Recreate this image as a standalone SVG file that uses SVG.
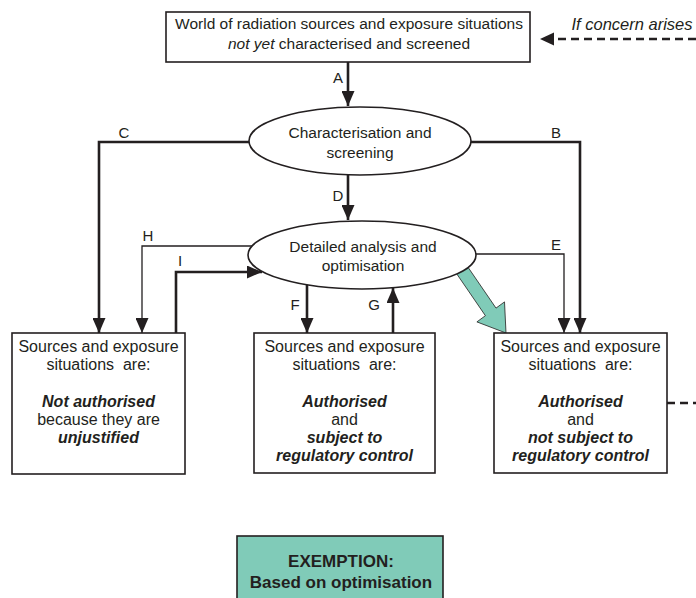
<svg xmlns="http://www.w3.org/2000/svg" width="696" height="598" viewBox="0 0 696 598">
<style>
text{font-family:"Liberation Sans",Arial,sans-serif;fill:#231f20;font-size:15.5px;text-anchor:middle}
.lbl{font-size:15px}
.bx text{font-size:16px}
.bi{font-weight:bold;font-style:italic}
.it{font-style:italic}
.b{font-weight:bold}
.box{fill:#fff;stroke:#231f20;stroke-width:1.6}
.thick{fill:none;stroke:#231f20;stroke-width:2.6}
.thin{fill:none;stroke:#231f20;stroke-width:1.3}
.dash{fill:none;stroke:#231f20;stroke-width:2.4;stroke-dasharray:8 5}
</style>
<defs>
<marker id="ah" markerUnits="userSpaceOnUse" markerWidth="16" markerHeight="13" refX="15" refY="6.5" orient="auto">
<path d="M0,0 L15,6.5 L0,13 z" fill="#231f20"/>
</marker>
</defs>
<g id="connectors">
<path class="thick" d="M348,62 V106" marker-end="url(#ah)"/>
<path class="thick" d="M348,175 V220" marker-end="url(#ah)"/>
<path class="thick" d="M250,142 H99 V333" marker-end="url(#ah)"/>
<path class="thick" d="M471,142 H580 V333" marker-end="url(#ah)"/>
<path class="thin" d="M253,246 H142 V333" marker-end="url(#ah)"/>
<path class="thick" d="M176,333 V272 H262" marker-end="url(#ah)"/>
<path class="thin" d="M475,254 H564 V333" marker-end="url(#ah)"/>
<path class="thick" d="M307,285 V333" marker-end="url(#ah)"/>
<path class="thick" d="M393,333 V288" marker-end="url(#ah)"/>
<path class="dash" d="M696,39 H542"/>
<path d="M540,39 L554,32.5 L554,45.5 z" fill="#231f20"/>
<path class="dash" d="M667,403 H696"/>
<polygon points="456.7,273.8 467.3,266.2 496,308.1 504.5,301.9 506,333 476.9,321.9 485.4,315.7" fill="#80cbb8" stroke="#231f20" stroke-width="0.8"/>
<text class="lbl" x="338" y="83">A</text>
<text class="lbl" x="124" y="138">C</text>
<text class="lbl" x="556" y="138">B</text>
<text class="lbl" x="338" y="201">D</text>
<text class="lbl" x="148" y="241">H</text>
<text class="lbl" x="180" y="266">I</text>
<text class="lbl" x="556" y="250">E</text>
<text class="lbl" x="295" y="310">F</text>
<text class="lbl" x="374" y="310">G</text>
<text class="it" x="632" y="30" style="font-size:16.5px">If concern arises</text>
</g>
<g id="world">
<rect class="box" x="166" y="12" width="364" height="50"/>
<text x="349" y="29">World of radiation sources and exposure situations</text>
<text x="349" y="49"><tspan class="it">not yet</tspan> characterised and screened</text>
</g>
<g id="screening">
<ellipse class="box" cx="360" cy="141" rx="111" ry="34"/>
<text x="360" y="138">Characterisation and</text>
<text x="360" y="158">screening</text>
</g>
<g id="analysis">
<ellipse class="box" cx="362" cy="255" rx="114" ry="34"/>
<text x="363" y="252">Detailed analysis and</text>
<text x="363" y="271">optimisation</text>
</g>
<g id="notauthorised" class="bx">
<rect class="box" x="12" y="333" width="173" height="141"/>
<text x="98.5" y="352">Sources and exposure</text>
<text x="98.5" y="370" xml:space="preserve">situations  are:</text>
<text class="bi" x="98.5" y="407">Not authorised</text>
<text x="98.5" y="425">because they are</text>
<text class="bi" x="98.5" y="443">unjustified</text>
</g>
<g id="subject" class="bx">
<rect class="box" x="254" y="333" width="181" height="140"/>
<text x="344.5" y="352">Sources and exposure</text>
<text x="344.5" y="370" xml:space="preserve">situations  are:</text>
<text class="bi" x="344.5" y="407">Authorised</text>
<text x="344.5" y="425">and</text>
<text class="bi" x="344.5" y="443">subject to</text>
<text class="bi" x="344.5" y="461">regulatory control</text>
</g>
<g id="notsubject" class="bx">
<rect class="box" x="494" y="333" width="173" height="140"/>
<text x="580.5" y="352">Sources and exposure</text>
<text x="580.5" y="370" xml:space="preserve">situations  are:</text>
<text class="bi" x="580.5" y="407">Authorised</text>
<text x="580.5" y="425">and</text>
<text class="bi" x="580.5" y="443">not subject to</text>
<text class="bi" x="580.5" y="461">regulatory control</text>
</g>
<g id="exemption">
<rect x="237" y="536" width="206" height="70" fill="#80cbb8" stroke="#231f20" stroke-width="1.6"/>
<text class="b" x="341" y="567" style="font-size:17px">EXEMPTION:</text>
<text class="b" x="341" y="588" style="font-size:17px">Based on optimisation</text>
</g>
</svg>
